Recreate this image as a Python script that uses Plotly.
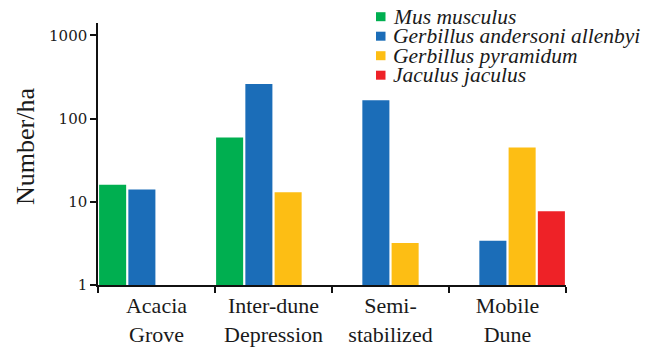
import plotly.graph_objects as go

# Habitat categories and rodent densities (individuals per hectare)
habitats = ["Acacia<br>Grove", "Inter-dune<br>Depression", "Semi-<br>stabilized", "Mobile<br>Dune"]
species = ["Mus musculus", "Gerbillus andersoni allenbyi", "Gerbillus pyramidum", "Jaculus jaculus"]
mus_musculus = [16, 59, None, None]
gerbillus_allenbyi = [14, 260, 166, 3.4]
gerbillus_pyramidum = [None, 13, 3.2, 45]
jaculus_jaculus = [None, None, None, 7.7]
y_ticks = [1, 10, 100, 1000]
y_tick_text = ["1", "10", "100", "1000"]
y_title = "Number/ha"

colors = ["#00AF50", "#1B6DB8", "#FDBE14", "#EE2227"]
series = [mus_musculus, gerbillus_allenbyi, gerbillus_pyramidum, jaculus_jaculus]

fig = go.Figure()
for name, vals, col in zip(species, series, colors):
    fig.add_trace(go.Bar(x=habitats, y=vals, name=name, marker_color=col,
                         marker_line_width=0, showlegend=False))

# Plot area in pixels (for placing the hand-built legend and axis title)
L, R, T, B = 98, 566, 23, 285
W, H = 655, 348


def px_x(px):
    return (px - L) / (R - L)


def px_y(py):
    return (B - py) / (B - T)


serif = "'Liberation Serif', 'Times New Roman', serif"
num_font = "'DejaVu Serif', serif"
shapes = []
annotations = []
legend_rows = [16.7, 36.2, 55.7, 75.2]
for name, col, yc in zip(species, colors, legend_rows):
    shapes.append(dict(type="rect", xref="paper", yref="paper",
                       x0=px_x(376), x1=px_x(385.5), y0=px_y(yc - 4.5), y1=px_y(yc + 4.5),
                       fillcolor=col, line_width=0))
    annotations.append(dict(xref="paper", yref="paper", x=px_x(391), y=px_y(yc),
                            xanchor="left", yanchor="middle", showarrow=False,
                            text=f"<i>{name}</i>",
                            font=dict(family=serif, size=21.5, color="#1a1a1a")))

# Rotated y-axis title
annotations.append(dict(xref="paper", yref="paper", x=px_x(25), y=px_y(147),
                        xanchor="center", yanchor="middle", showarrow=False,
                        textangle=-90, text=y_title,
                        font=dict(family=serif, size=26, color="#1a1a1a")))

fig.update_layout(
    width=W, height=H,
    margin=dict(l=L, r=W - R, t=T, b=H - B, pad=0),
    paper_bgcolor="white", plot_bgcolor="white",
    barmode="group", bargap=0, bargroupgap=0.075,
    shapes=shapes, annotations=annotations,
    font=dict(family=serif, color="#1a1a1a"),
)
fig.update_xaxes(
    range=[-0.5, 3.5], tickson="boundaries", ticks="outside", ticklen=6,
    tickwidth=1.5, tickcolor="#111", showline=True, linecolor="#111", linewidth=1.5,
    showgrid=False, automargin=False,
    tickfont=dict(family=serif, size=22, color="#1a1a1a"),
)
fig.update_yaxes(
    type="log", range=[0, 3.148], tickvals=y_ticks, ticktext=y_tick_text,
    ticks="outside", ticklen=6, tickwidth=1.5, tickcolor="#111",
    showline=True, linecolor="#111", linewidth=1.5, showgrid=False, zeroline=False,
    automargin=False,
    tickfont=dict(family=num_font, size=15, color="#1a1a1a"),
)

fig.write_html("out.html")
